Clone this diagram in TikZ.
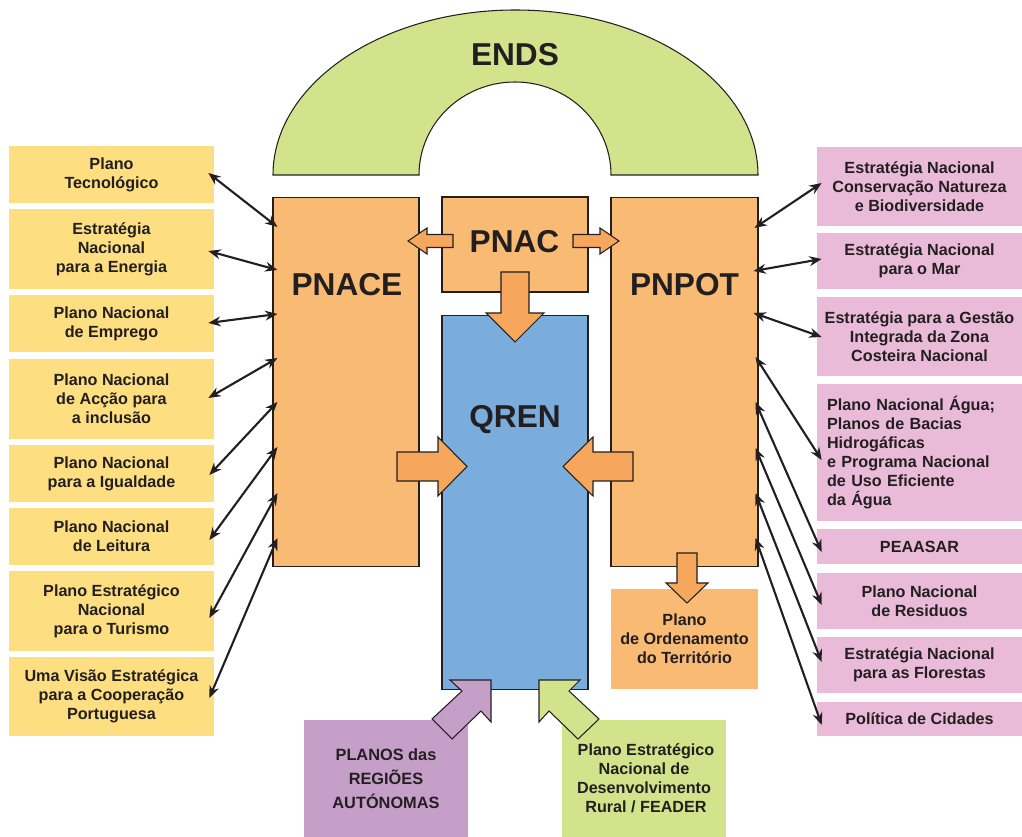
\documentclass[tikz,border=0pt]{standalone}
\usepackage{fontspec}
\setmainfont{Liberation Sans}
\usetikzlibrary{arrows.meta}
\definecolor{cTxt}{HTML}{231F20}
\definecolor{cYel}{HTML}{FDDE80}
\definecolor{cPink}{HTML}{E9BBD8}
\definecolor{cOrange}{HTML}{F9BA74}
\definecolor{cArrow}{HTML}{F7A75B}
\definecolor{cBlue}{HTML}{7AADDB}
\definecolor{cPurple}{HTML}{C69FC9}
\definecolor{cGreen}{HTML}{D3E38B}
\tikzset{
  sbox/.style={inner sep=0pt, align=center, text=cTxt},
  yel/.style={sbox, fill=cYel, minimum width=4.1cm},
  pnk/.style={sbox, fill=cPink, minimum width=4.1cm},
  mainbox/.style={draw=cTxt, line width=0.6pt, fill=cOrange, inner sep=0pt},
  big/.style={font=\bfseries\fontsize{18}{20}\selectfont, text=cTxt, inner sep=0pt},
  link/.style={line width=1.2pt, draw=cTxt, {Stealth[length=7pt,width=5.6pt]}-{Stealth[length=7pt,width=5.6pt]}},
  blockarrow/.style={draw=cTxt, line width=0.6pt, fill=cArrow, line join=miter},
}
\begin{document}
\begin{tikzpicture}[x=0.02cm, y=-0.02cm, font=\bfseries\fontsize{9.2}{10.8}\selectfont]
\useasboundingbox (0,0) rectangle (1022,837);

% ENDS arch
\path[draw=cTxt, line width=0.6pt, fill=cGreen]
  (273,175) arc[start angle=180, end angle=360, x radius=242.5, y radius=165]
  -- (611,175) arc[start angle=360, end angle=180, x radius=96, y radius=93] -- cycle;
\node[big] (ends) at (515,54.5) {ENDS};

% left boxes
\node[yel, minimum height=1.14cm] (L1) at (111.5,174.5) {Plano\\Tecnológico};
\node[yel, minimum height=1.60cm] (L2) at (111.5,249) {Estratégia\\Nacional\\para a Energia};
\node[yel, minimum height=1.14cm] (L3) at (111.5,323.5) {Plano Nacional\\de Emprego};
\node[yel, minimum height=1.60cm] (L4) at (111.5,399) {Plano Nacional\\de Acção para\\a inclusão};
\node[yel, minimum height=1.14cm] (L5) at (111.5,473.5) {Plano Nacional\\para a Igualdade};
\node[yel, minimum height=1.14cm] (L6) at (111.5,536.5) {Plano Nacional\\de Leitura};
\node[yel, minimum height=1.60cm] (L7) at (111.5,611) {Plano Estratégico\\Nacional\\para o Turismo};
\node[yel, minimum height=1.58cm] (L8) at (111.5,696.5) {Uma Visão Estratégica\\para a Cooperação\\Portuguesa};

% right boxes
\node[pnk, minimum height=1.58cm] (R1) at (919.5,186.5) {Estratégia Nacional\\Conservação Natureza\\e Biodiversidade};
\node[pnk, minimum height=1.12cm] (R2) at (919.5,261) {Estratégia Nacional\\para o Mar};
\node[pnk, minimum height=1.58cm] (R3) at (919.5,336.5) {Estratégia para a Gestão\\Integrada da Zona\\Costeira Nacional};
\node[pnk, minimum height=2.74cm, text width=3.7cm, inner xsep=0.2cm, align=left] (R4) at (919.5,452.5) {Plano Nacional Água;\\Planos de Bacias\\Hidrogáficas\\e Programa Nacional\\de Uso Eficiente\\da Água};
\node[pnk, minimum height=0.70cm] (R5) at (919.5,546.5) {PEAASAR};
\node[pnk, minimum height=1.12cm] (R6) at (919.5,601) {Plano Nacional\\de Residuos};
\node[pnk, minimum height=1.12cm] (R7) at (919.5,665) {Estratégia Nacional\\para as Florestas};
\node[pnk, minimum height=0.68cm] (R8) at (919.5,719) {Política de Cidades};

% main boxes
\node[mainbox, minimum width=2.92cm, minimum height=7.40cm] (pnace) at (346,382) {};
\node[mainbox, minimum width=2.92cm, minimum height=1.90cm] (pnac) at (515,244.5) {};
\node[mainbox, minimum width=2.94cm, minimum height=7.40cm] (pnpot) at (684.5,382) {};
\node[mainbox, fill=cBlue, minimum width=2.92cm, minimum height=7.50cm] (qren) at (515,502.5) {};
\node[big] (pnacelbl) at (347,284.5) {PNACE};
\node[big] (pnaclbl) at (514.5,242) {PNAC};
\node[big] (pnpotlbl) at (684.5,284.5) {PNPOT};
\node[big] (qrenlbl) at (515,420) {QREN};

% lower boxes
\node[sbox, fill=cOrange, minimum width=2.94cm, minimum height=2.0cm] (pot) at (684.5,639) {Plano\\de Ordenamento\\do Território};
\node[sbox, fill=cPurple, minimum width=3.28cm, minimum height=2.34cm, font=\bfseries\fontsize{9.3}{13.6}\selectfont] (regioes) at (386,778.5) {PLANOS das\\REGIÕES\\AUTÓNOMAS};
\node[sbox, fill=cGreen, minimum width=3.28cm, minimum height=2.34cm] (feader) at (644,778.5) {\hspace*{0.08cm}Plano Estratégico\\Nacional de\\Desenvolvimento\\\hspace*{0.08cm}Rural / FEADER};

% block arrows
\path[blockarrow] (453,234.5) -- (427,234.5) -- (427,228) -- (408,241) -- (427,254) -- (427,247.5) -- (453,247.5) -- cycle;
\path[blockarrow] (573,234.5) -- (600,234.5) -- (600,228) -- (619,241) -- (600,254) -- (600,247.5) -- (573,247.5) -- cycle;
\path[blockarrow] (501,272) -- (529,272) -- (529,313) -- (544,313) -- (515,342) -- (486,313) -- (501,313) -- cycle;
\path[blockarrow] (397,452) -- (438,452) -- (438,437) -- (467,466.5) -- (438,496) -- (438,481) -- (397,481) -- cycle;
\path[blockarrow] (633,452) -- (593,452) -- (593,437) -- (563,466.5) -- (593,496) -- (593,481) -- (633,481) -- cycle;
\path[blockarrow] (677,553) -- (697,553) -- (697,583) -- (708,583) -- (687,603) -- (666,583) -- (677,583) -- cycle;
\path[blockarrow, fill=cPurple] (491,680) -- (450,680) -- (462,691) -- (432,719) -- (452,739) -- (481,711) -- (491,722) -- cycle;
\path[blockarrow, fill=cGreen] (539,680) -- (580,680) -- (569,691) -- (599,719) -- (578,739) -- (549,711) -- (539,722) -- cycle;

% connectors left
\draw[link] ([shift={(-6,-1.5)}]L1.east) -- ([shift={(5,-155)}]pnace.west);
\draw[link] ([shift={(-6,2)}]L2.east) -- ([shift={(5,-112)}]pnace.west);
\draw[link] ([shift={(-6,-0.5)}]L3.east) -- ([shift={(5,-68)}]pnace.west);
\draw[link] ([shift={(-6,-1)}]L4.east) -- ([shift={(5,-24)}]pnace.west);
\draw[link] ([shift={(-5,1.5)}]L5.east) -- ([shift={(5,20)}]pnace.west);
\draw[link] ([shift={(-5,3.5)}]L6.east) -- ([shift={(5,65)}]pnace.west);
\draw[link] ([shift={(-5,7)}]L7.east) -- ([shift={(5,111)}]pnace.west);
\draw[link] ([shift={(-5,1.5)}]L8.east) -- ([shift={(5,156)}]pnace.west);

% connectors right
\draw[link] ([shift={(-4,-154)}]pnpot.east) -- ([shift={(5,-3.5)}]R1.west);
\draw[link] ([shift={(-5,-111)}]pnpot.east) -- ([shift={(5,-2)}]R2.west);
\draw[link] ([shift={(-5,-69)}]pnpot.east) -- ([shift={(5,0.5)}]R3.west);
\draw[link] ([shift={(-3,-25)}]pnpot.east) -- ([shift={(5,7.5)}]R4.west);
\draw[link] ([shift={(-3,20)}]pnpot.east) -- ([shift={(5,5.5)}]R5.west);
\draw[link] ([shift={(-3,66)}]pnpot.east) -- ([shift={(5,4)}]R6.west);
\draw[link] ([shift={(-3,111)}]pnpot.east) -- ([shift={(5,-3)}]R7.west);
\draw[link] ([shift={(-3,156)}]pnpot.east) -- ([shift={(5,6)}]R8.west);
\end{tikzpicture}
\end{document}
